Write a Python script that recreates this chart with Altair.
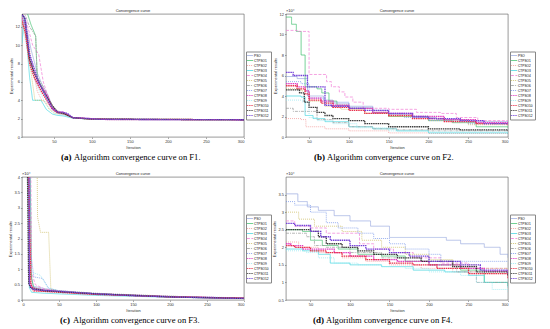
import altair as alt
import pandas as pd

NAMES = ["PSO", "CTPSO1", "CTPSO2", "CTPSO3", "CTPSO4", "CTPSO5", "CTPSO6",
         "CTPSO7", "CTPSO8", "CTPSO9", "CTPSO10", "CTPSO11", "CTPSO12"]
COLORS = ["#9aa9e0", "#3cbf6c", "#f09090", "#3ed6e0", "#f07cd6", "#c8b858", "#9a9a9a",
          "#6f8fe8", "#e03cc0", "#8ee6f0", "#e8304c", "#3c3c3c", "#7440d8"]
DASHES = [[1, 0], [1, 0], [1, 1], [1, 0], [3, 1.5], [1, 1], [3, 1, 1, 1],
          [1, 1], [1.5, 0.7], [1, 1], [1.5, 0.7], [1.5, 0.7], [1.5, 0.7]]
MARKED = ["CTPSO8", "CTPSO10", "CTPSO11", "CTPSO12"]

# ---------------- Panel (a): F1 ----------------
A_ITER = {
    "PSO":     [8, 12, 20, 28, 35, 42, 48, 55, 62, 68, 75, 90, 110, 130, 300],
    "CTPSO1":  [8, 15, 20, 26, 28, 35, 42, 48, 55, 62, 68, 75, 90, 120, 300],
    "CTPSO2":  [8, 14, 22, 28, 34, 40, 48, 55, 62, 75, 100, 130, 300],
    "CTPSO3":  [8, 11, 14, 18, 22, 33, 40, 48, 55, 62, 75, 100, 300],
    "CTPSO4":  [8, 14, 22, 30, 36, 42, 48, 55, 62, 75, 100, 300],
    "CTPSO5":  [8, 13, 20, 25, 37, 44, 50, 58, 65, 75, 100, 300],
    "CTPSO6":  [8, 12, 18, 26, 28, 34, 40, 46, 52, 58, 66, 75, 100, 300],
    "CTPSO7":  [8, 12, 18, 24, 30, 36, 42, 48, 55, 62, 75, 100, 300],
    "CTPSO8":  [8, 12, 18, 24, 30, 36, 42, 48, 55, 62, 66, 75, 100, 120, 300],
    "CTPSO9":  [8, 14, 20, 28, 34, 40, 48, 55, 62, 75, 100, 300],
    "CTPSO10": [8, 12, 18, 24, 30, 36, 42, 48, 55, 62, 75, 100, 300],
    "CTPSO11": [8, 12, 18, 24, 30, 36, 42, 48, 55, 62, 75, 100, 300],
    "CTPSO12": [8, 12, 18, 24, 30, 36, 42, 48, 55, 62, 68, 75, 90, 110, 300],
}
A_VAL = {
    "PSO":     [13.5, 12.8, 9.5, 7.0, 5.6, 4.6, 3.3, 2.6, 2.5, 2.3, 2.1, 2.0, 1.95, 1.9, 1.88],
    "CTPSO1":  [14.0, 13.5, 12.2, 11.0, 6.5, 5.3, 4.2, 3.2, 2.6, 2.55, 2.3, 2.1, 2.0, 1.9, 1.88],
    "CTPSO2":  [12.5, 11.5, 7.5, 5.0, 4.0, 3.7, 3.2, 2.6, 2.5, 2.1, 1.95, 1.9, 1.88],
    "CTPSO3":  [10.2, 13.0, 10.5, 6.5, 4.0, 4.0, 3.0, 2.5, 2.35, 2.3, 2.05, 1.95, 1.88],
    "CTPSO4":  [13.5, 12.5, 10.0, 9.0, 6.0, 4.5, 3.0, 2.6, 2.5, 2.1, 1.95, 1.88],
    "CTPSO5":  [12.8, 11.0, 7.0, 4.0, 4.0, 3.0, 2.6, 2.5, 2.45, 2.1, 1.95, 1.88],
    "CTPSO6":  [13.6, 13.3, 12.0, 11.0, 6.5, 5.8, 4.8, 3.7, 3.0, 2.7, 2.6, 2.1, 1.95, 1.88],
    "CTPSO7":  [13.2, 12.2, 9.0, 7.0, 5.5, 4.8, 4.0, 3.0, 2.6, 2.55, 2.1, 1.95, 1.88],
    "CTPSO8":  [13.0, 12.2, 8.5, 7.0, 5.8, 5.2, 4.4, 3.2, 2.7, 2.7, 2.55, 2.1, 2.0, 1.9, 1.88],
    "CTPSO9":  [12.0, 10.0, 7.5, 5.5, 4.5, 3.5, 2.8, 2.5, 2.4, 2.05, 1.95, 1.88],
    "CTPSO10": [12.6, 11.5, 8.0, 6.5, 5.5, 4.6, 3.8, 3.0, 2.65, 2.6, 2.1, 1.95, 1.88],
    "CTPSO11": [13.4, 12.8, 8.5, 7.0, 6.0, 5.0, 4.2, 3.4, 2.7, 2.6, 2.1, 1.95, 1.88],
    "CTPSO12": [13.3, 13.0, 9.0, 7.5, 6.0, 5.0, 4.0, 3.1, 2.7, 2.7, 2.55, 2.1, 2.05, 1.92, 1.88],
}

# ---------------- Panel (b): F2 ----------------
B_ITER = {
    "PSO":     [21, 35, 48, 68, 80, 100, 130, 150, 180, 210, 250, 300],
    "CTPSO1":  [21, 28, 34, 40, 45, 60, 66, 75, 85, 100, 130, 150, 200, 230, 260, 300],
    "CTPSO2":  [21, 40, 46, 70, 100, 150, 200, 300],
    "CTPSO3":  [21, 40, 45, 55, 70, 100, 130, 160, 200, 300],
    "CTPSO4":  [21, 35, 50, 72, 78, 88, 95, 105, 118, 150, 185, 215, 235, 262, 300],
    "CTPSO5":  [21, 40, 50, 70, 90, 120, 150, 200, 250, 300],
    "CTPSO6":  [21, 30, 45, 60, 80, 100, 130, 160, 200, 300],
    "CTPSO7":  [21, 40, 50, 70, 100, 130, 170, 200, 250, 300],
    "CTPSO8":  [21, 35, 45, 50, 65, 80, 100, 130, 150, 180, 220, 260, 300],
    "CTPSO9":  [21, 42, 50, 60, 80, 110, 150, 200, 300],
    "CTPSO10": [21, 35, 45, 50, 65, 80, 100, 120, 150, 180, 220, 260, 300],
    "CTPSO11": [21, 38, 44, 50, 60, 70, 80, 100, 120, 150, 200, 240, 300],
    "CTPSO12": [21, 30, 48, 70, 78, 100, 120, 150, 180, 200, 240, 270, 300],
}
B_VAL = {
    "PSO":     [5.9, 5.7, 4.0, 3.6, 3.3, 3.0, 2.6, 2.2, 1.9, 1.7, 1.5, 1.4],
    "CTPSO1":  [11.7, 11.0, 10.3, 8.0, 4.9, 4.7, 4.3, 3.5, 3.1, 2.8, 2.4, 2.0, 1.6, 1.4, 1.0, 0.9],
    "CTPSO2":  [1.8, 1.7, 1.0, 0.8, 0.6, 0.4, 0.35, 0.3],
    "CTPSO3":  [4.0, 3.9, 2.1, 1.8, 1.5, 1.0, 0.8, 0.6, 0.4, 0.3],
    "CTPSO4":  [10.4, 10.3, 6.1, 5.4, 4.9, 4.4, 3.9, 3.4, 2.8, 2.7, 2.4, 2.3, 1.9, 1.6, 1.6],
    "CTPSO5":  [4.7, 4.5, 3.5, 3.0, 2.7, 2.3, 2.0, 1.6, 1.2, 1.0],
    "CTPSO6":  [2.8, 2.5, 2.5, 1.7, 1.4, 1.0, 0.8, 0.7, 0.6, 0.55],
    "CTPSO7":  [5.4, 5.2, 3.8, 3.4, 2.9, 2.3, 1.9, 1.6, 1.3, 1.1],
    "CTPSO8":  [5.2, 4.9, 4.5, 3.8, 3.5, 3.1, 2.8, 2.4, 2.3, 2.0, 1.7, 1.4, 1.3],
    "CTPSO9":  [3.6, 3.4, 1.9, 1.6, 1.3, 0.9, 0.6, 0.5, 0.4],
    "CTPSO10": [5.0, 4.7, 4.2, 3.6, 3.3, 2.9, 2.6, 2.3, 2.1, 1.8, 1.5, 1.3, 1.2],
    "CTPSO11": [4.6, 4.3, 3.4, 2.9, 2.4, 2.1, 1.8, 1.6, 1.3, 1.0, 0.8, 0.7, 0.6],
    "CTPSO12": [6.3, 6.0, 4.9, 3.1, 3.0, 2.8, 2.6, 2.3, 2.0, 1.8, 1.6, 1.3, 1.3],
}

# ---------------- Panel (c): F3 ----------------
C_ITER = {
    "PSO":     [1, 8, 11, 15, 25, 35, 50, 100, 200, 300],
    "CTPSO1":  [1, 10, 13, 16, 30, 50, 100, 200, 300],
    "CTPSO2":  [1, 9, 11, 14, 30, 50, 100, 200, 300],
    "CTPSO3":  [1, 8, 10, 13, 30, 50, 100, 200, 300],
    "CTPSO4":  [1, 11, 13, 18, 30, 50, 100, 200, 300],
    "CTPSO5":  [1, 19, 21, 25, 36, 39, 50, 100, 150, 210, 220, 300],
    "CTPSO6":  [1, 9, 11, 15, 30, 50, 100, 200, 300],
    "CTPSO7":  [1, 10, 12, 16, 28, 36, 50, 100, 200, 300],
    "CTPSO8":  [1, 8, 10, 14, 30, 50, 100, 200, 300],
    "CTPSO9":  [1, 8, 10, 14, 25, 35, 50, 100, 200, 300],
    "CTPSO10": [1, 9, 12, 16, 30, 50, 100, 200, 300],
    "CTPSO11": [1, 7, 9, 12, 30, 50, 100, 200, 300],
    "CTPSO12": [1, 9, 10, 14, 20, 50, 100, 150, 200, 250, 300],
}
C_VAL = {
    "PSO":     [8, 6, 1.0, 0.45, 0.4, 0.35, 0.3, 0.2, 0.12, 0.06],
    "CTPSO1":  [9, 6, 0.7, 0.4, 0.33, 0.28, 0.2, 0.11, 0.06],
    "CTPSO2":  [9, 5, 0.5, 0.3, 0.28, 0.25, 0.18, 0.1, 0.05],
    "CTPSO3":  [8, 4, 0.4, 0.25, 0.22, 0.2, 0.15, 0.09, 0.05],
    "CTPSO4":  [9, 7, 0.9, 0.5, 0.36, 0.3, 0.2, 0.11, 0.06],
    "CTPSO5":  [9, 9, 2.7, 2.2, 2.2, 0.35, 0.3, 0.22, 0.17, 0.12, 0.08, 0.06],
    "CTPSO6":  [9, 6, 0.6, 0.4, 0.32, 0.27, 0.19, 0.1, 0.05],
    "CTPSO7":  [9, 8, 1.5, 0.75, 0.7, 0.38, 0.3, 0.22, 0.12, 0.07],
    "CTPSO8":  [9, 5, 0.6, 0.4, 0.32, 0.28, 0.2, 0.11, 0.06],
    "CTPSO9":  [8, 5, 1.2, 0.9, 0.8, 0.4, 0.3, 0.2, 0.1, 0.05],
    "CTPSO10": [8, 4, 0.5, 0.3, 0.28, 0.25, 0.18, 0.1, 0.06],
    "CTPSO11": [7, 5, 0.55, 0.38, 0.3, 0.27, 0.2, 0.1, 0.05],
    "CTPSO12": [9, 9, 0.5, 0.35, 0.33, 0.28, 0.2, 0.14, 0.1, 0.07, 0.05],
}

# ---------------- Panel (d): F4 ----------------
D_ITER = {
    "PSO":     [19, 34, 46, 60, 80, 100, 126, 150, 222, 240, 270, 290, 300],
    "CTPSO1":  [19, 40, 50, 65, 85, 110, 140, 170, 200, 240, 270, 300],
    "CTPSO2":  [19, 35, 60, 90, 120, 150, 190, 230, 260, 300],
    "CTPSO3":  [19, 40, 60, 75, 100, 140, 180, 220, 250, 270, 300],
    "CTPSO4":  [19, 30, 50, 70, 90, 112, 130, 155, 180, 215, 250, 300],
    "CTPSO5":  [19, 35, 55, 75, 90, 115, 140, 170, 200, 230, 260, 300],
    "CTPSO6":  [19, 45, 55, 70, 100, 140, 170, 200, 235, 260, 300],
    "CTPSO7":  [19, 30, 50, 70, 85, 110, 130, 150, 170, 200, 215, 300],
    "CTPSO8":  [19, 25, 40, 60, 80, 100, 130, 160, 200, 240, 270, 300],
    "CTPSO9":  [19, 45, 60, 80, 110, 140, 170, 200, 240, 260, 280, 300],
    "CTPSO10": [19, 30, 50, 70, 90, 120, 150, 180, 210, 250, 300],
    "CTPSO11": [19, 50, 60, 70, 90, 110, 130, 160, 190, 230, 260, 300],
    "CTPSO12": [19, 30, 50, 63, 75, 100, 120, 150, 175, 200, 240, 265, 300],
}
D_VAL = {
    "PSO":     [3.52, 3.3, 3.15, 3.05, 2.9, 2.75, 2.6, 2.28, 2.2, 2.1, 2.0, 1.8, 1.7],
    "CTPSO1":  [2.5, 2.45, 2.2, 2.05, 1.95, 1.8, 1.75, 1.6, 1.5, 1.35, 1.0, 0.9],
    "CTPSO2":  [2.15, 2.0, 1.85, 1.7, 1.6, 1.5, 1.4, 1.3, 1.25, 1.15],
    "CTPSO3":  [1.95, 1.9, 1.8, 1.55, 1.5, 1.45, 1.35, 1.3, 1.2, 1.0, 0.85],
    "CTPSO4":  [2.75, 2.6, 2.55, 2.4, 2.4, 2.1, 1.95, 1.85, 1.7, 1.55, 1.4, 1.25],
    "CTPSO5":  [3.0, 2.8, 2.6, 2.6, 2.45, 2.2, 2.0, 1.8, 1.65, 1.5, 1.4, 1.3],
    "CTPSO6":  [2.4, 2.3, 2.05, 2.0, 1.85, 1.7, 1.6, 1.5, 1.3, 1.0, 0.9],
    "CTPSO7":  [3.3, 3.2, 3.0, 2.7, 2.55, 2.4, 2.25, 2.1, 1.95, 1.8, 1.6, 1.6],
    "CTPSO8":  [2.1, 2.05, 1.95, 1.95, 1.85, 1.75, 1.65, 1.6, 1.5, 1.4, 1.32, 1.3],
    "CTPSO9":  [1.9, 1.85, 1.7, 1.55, 1.5, 1.45, 1.4, 1.3, 1.2, 1.0, 0.8, 0.7],
    "CTPSO10": [2.05, 2.0, 1.9, 1.85, 1.75, 1.65, 1.55, 1.5, 1.4, 1.25, 1.1],
    "CTPSO11": [2.5, 2.45, 2.3, 2.1, 2.0, 1.9, 1.8, 1.7, 1.6, 1.45, 1.3, 1.2],
    "CTPSO12": [2.68, 2.62, 2.45, 2.3, 2.2, 2.05, 1.95, 1.85, 1.75, 1.6, 1.5, 1.35, 1.23],
}

TAGS = ["(a)", "(b)", "(c)", "(d)"]
CAPTIONS = ["Algorithm convergence curve on F1.", "Algorithm convergence curve on F2.",
            "Algorithm convergence curve on F3.", "Algorithm convergence curve on F4."]
PANEL_TITLE = "Convergence curve"
EXPONENTS = ["", "\u00d710\u2074", "\u00d710\u2074", "\u00d710\u2074"]

A_XTICKS = [50, 100, 150, 200, 250, 300]
C_XTICKS = [0, 50, 100, 150, 200, 250, 300]
A_YTICKS = [0, 2, 4, 6, 8, 10, 12]
B_YTICKS = [0, 2, 4, 6, 8, 10, 12]
C_YTICKS = [0, 0.5, 1, 1.5, 2, 2.5, 3, 3.5, 4]
D_YTICKS = [0.5, 1, 1.5, 2, 2.5, 3, 3.5]

W = 222
H = 123
SMALL = "Liberation Sans"
SERIF = "Liberation Serif"


def build(iters, vals):
    rows = []
    for n in NAMES:
        for i, v in zip(iters[n], vals[n]):
            rows.append({"series": n, "iter": i, "value": v})
    return pd.DataFrame(rows)


def panel(iters, vals, xdom, xticks, ydom, yticks, interp, idx, cap_x):
    df = build(iters, vals)
    leg = alt.Legend(orient="none", legendX=W + 2, legendY=H / 2 - 24, title=None,
                     labelFontSize=3.2, labelFont=SMALL, symbolType="M-1.8,0H1.8",
                     symbolSize=12, symbolStrokeWidth=0.8, rowPadding=0,
                     labelOffset=1.5, padding=1.5, strokeColor="#888888",
                     fillColor="white", labelLimit=60)
    lines = alt.Chart(df).mark_line(clip=True, interpolate=interp).encode(
        x=alt.X("iter:Q", scale=alt.Scale(domain=xdom, nice=False, zero=False),
                axis=alt.Axis(values=xticks, title="Iteration", format="d")),
        y=alt.Y("value:Q", scale=alt.Scale(domain=ydom, nice=False, zero=False),
                axis=alt.Axis(values=yticks, title="Experimental results", format="~g")),
        color=alt.Color("series:N", sort=NAMES,
                        scale=alt.Scale(domain=NAMES, range=COLORS), legend=leg),
        strokeDash=alt.StrokeDash("series:N", sort=NAMES,
                                  scale=alt.Scale(domain=NAMES, range=DASHES), legend=leg),
        strokeWidth=alt.condition(alt.FieldOneOfPredicate(field="series", oneOf=MARKED),
                                  alt.value(1.3), alt.value(0.7)),
        order="iter:Q",
    )
    ttl = alt.Chart(pd.DataFrame({"t": [PANEL_TITLE]})).mark_text(
        fontSize=4, font=SMALL, color="#222", baseline="bottom", align="center"
    ).encode(text="t:N", x=alt.value(W / 2), y=alt.value(-1.5))
    layers = [lines, ttl]
    if EXPONENTS[idx]:
        ex = alt.Chart(pd.DataFrame({"t": [EXPONENTS[idx]]})).mark_text(
            fontSize=4, font=SMALL, color="#222", baseline="bottom", align="left"
        ).encode(text="t:N", x=alt.value(0), y=alt.value(-1.5))
        layers.append(ex)
    tag = alt.Chart(pd.DataFrame({"t": [TAGS[idx]]})).mark_text(
        fontSize=9, font=SERIF, fontWeight="bold", color="#000", baseline="middle", align="left"
    ).encode(text="t:N", x=alt.value(cap_x), y=alt.value(H + 20))
    cap = alt.Chart(pd.DataFrame({"t": [CAPTIONS[idx]]})).mark_text(
        fontSize=8.6, font=SERIF, color="#000", baseline="middle", align="left"
    ).encode(text="t:N", x=alt.value(cap_x + 13), y=alt.value(H + 20))
    layers += [tag, cap]
    return alt.layer(*layers).properties(width=W, height=H)


pa = panel(A_ITER, A_VAL, [8, 300], A_XTICKS, [0, 13.4], A_YTICKS, "linear", 0, 39)
pb = panel(B_ITER, B_VAL, [21, 300], A_XTICKS, [0, 12], B_YTICKS, "step-after", 1, 28)
pc = panel(C_ITER, C_VAL, [0, 300], C_XTICKS, [0, 4], C_YTICKS, "linear", 2, 38)
pd_ = panel(D_ITER, D_VAL, [19, 300], A_XTICKS, [0.5, 4], D_YTICKS, "step-after", 3, 27)

chart = alt.concat(pa, pb, pc, pd_, columns=2, spacing={"row": 8, "column": 0}).resolve_scale(
    color="independent", strokeDash="independent"
).properties(padding=0, background="white").configure_view(
    stroke="#555555", strokeWidth=0.6
).configure_axis(
    grid=False, domain=False, labelFontSize=4, labelFont=SMALL, labelColor="#333",
    titleFontSize=4, titleFont=SMALL, titleFontWeight="normal", titleColor="#333",
    tickSize=1.5, tickWidth=0.5, tickColor="#555", labelPadding=1, titlePadding=1.5
)

chart.save("out.html", embed_options={"renderer": "svg", "actions": False})
